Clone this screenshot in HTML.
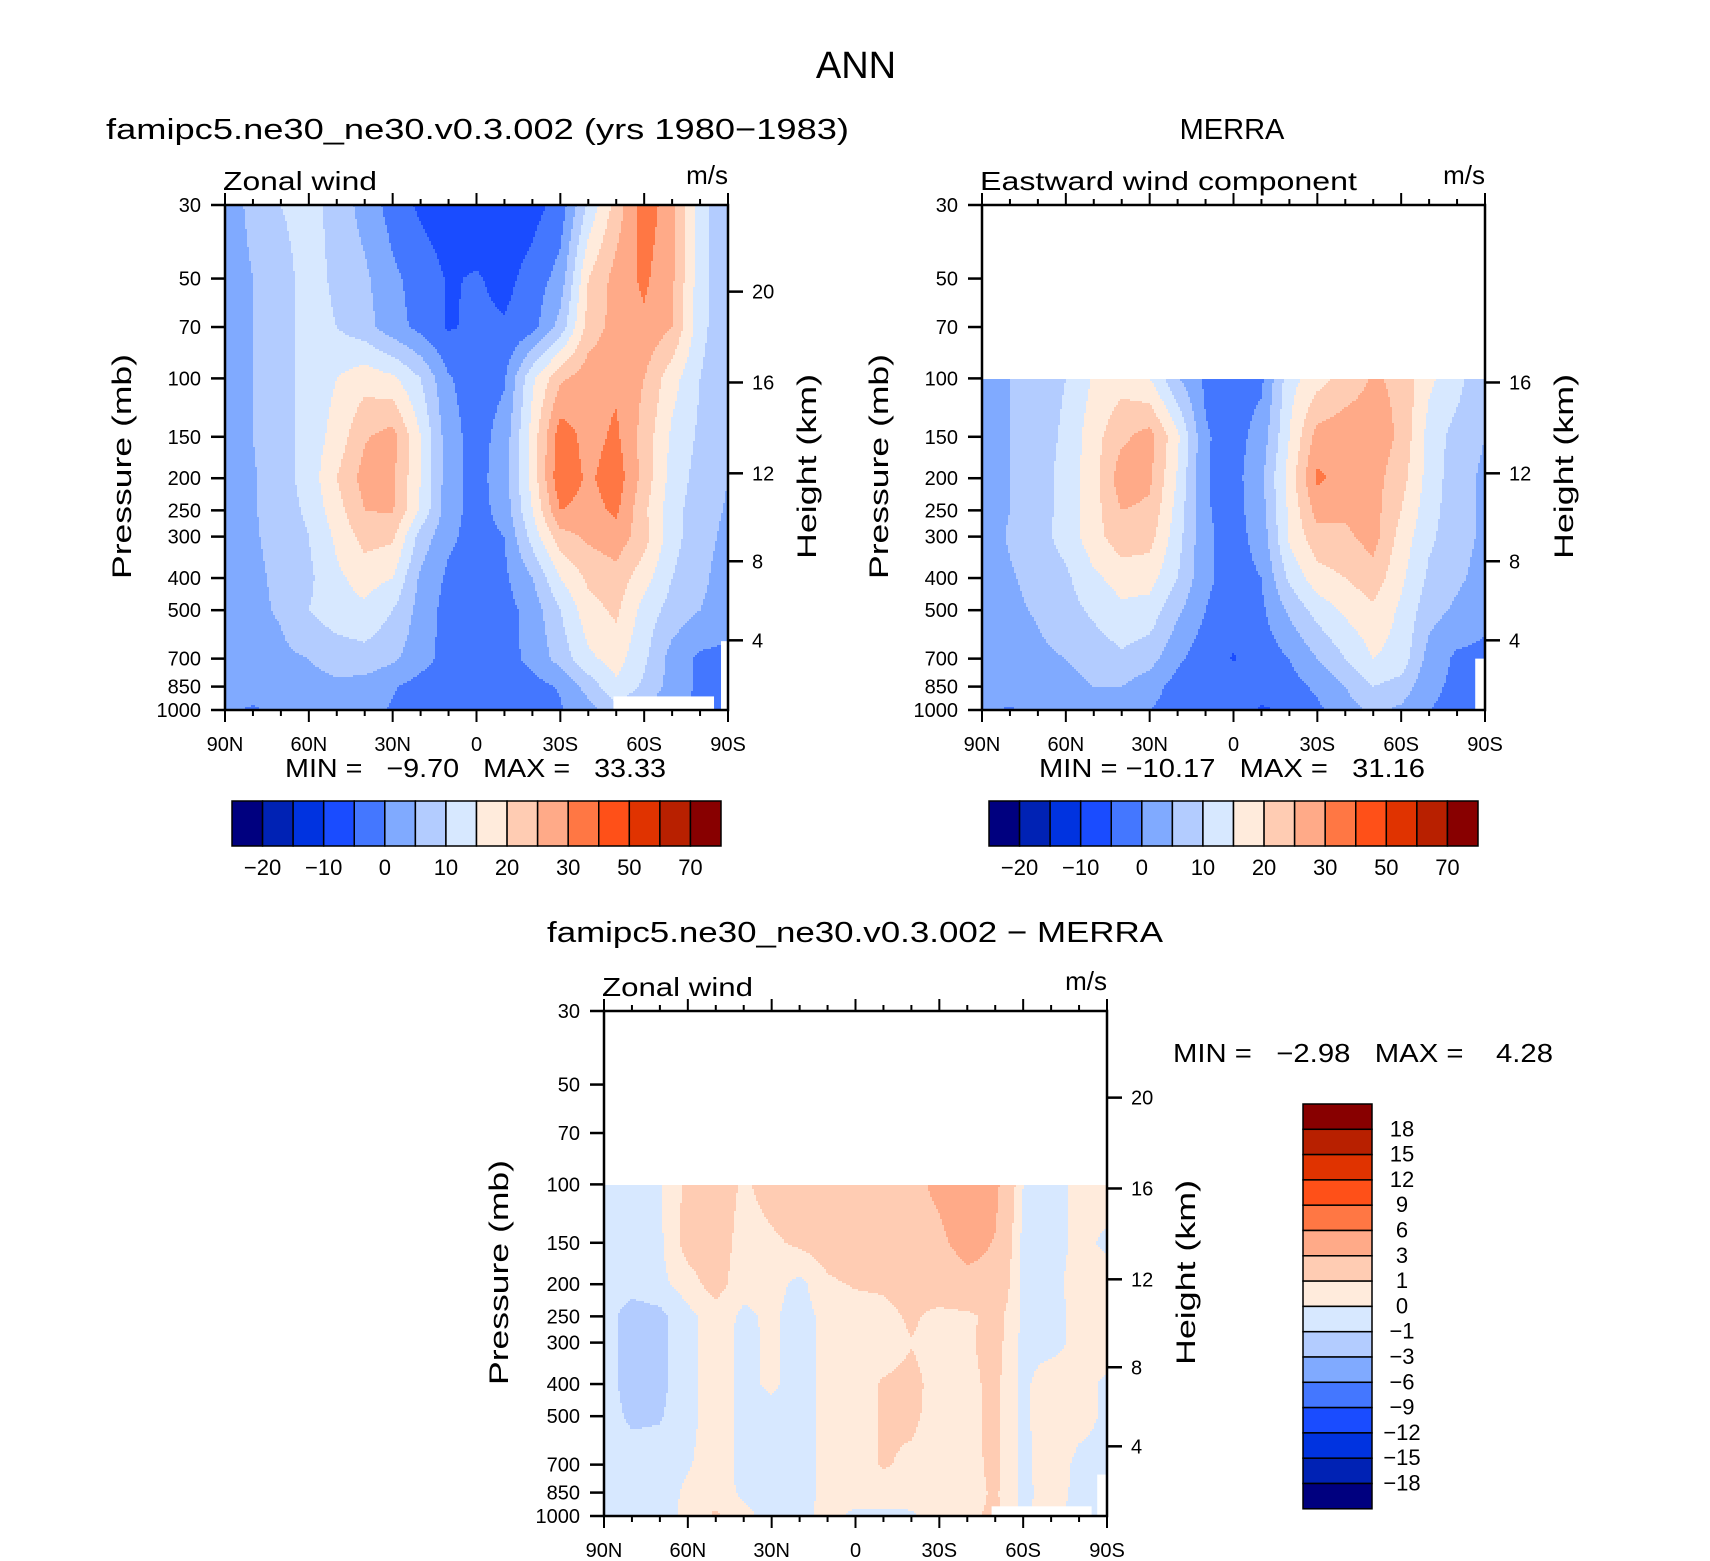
<!DOCTYPE html>
<html><head><meta charset="utf-8"><style>
html,body{margin:0;padding:0;background:#fff;}
svg{display:block;font-family:"Liberation Sans",sans-serif;}
.pre{white-space:pre;}
</style></head><body>
<svg id="fig" xmlns="http://www.w3.org/2000/svg" width="1710" height="1561" viewBox="0 0 1710 1561">
<rect x="0" y="0" width="1710" height="1561" fill="#fff"/>
<text x="856" y="78" font-size="38" text-anchor="middle">ANN</text>
<text x="106" y="139" font-size="29" textLength="743" lengthAdjust="spacingAndGlyphs">famipc5.ne30_ne30.v0.3.002 (yrs 1980−1983)</text>
<text x="1232" y="139" font-size="29" text-anchor="middle">MERRA</text>
<text x="547" y="942" font-size="29" textLength="616" lengthAdjust="spacingAndGlyphs">famipc5.ne30_ne30.v0.3.002 − MERRA</text>
</svg>
<script>
const lats=[90,80,70,60,50,40,30,20,10,0,-10,-20,-30,-40,-50,-60,-70,-80,-90];
const levels=[30,50,70,100,150,200,250,300,400,500,700,850,1000];
const pressureTicks=[30,50,70,100,150,200,250,300,400,500,700,850,1000];
const latTicks=[90,60,30,0,-30,-60,-90];
const latTickLabels=['90N','60N','30N','0','30S','60S','90S'];
const fullLevels=[-20,-15,-10,-5,0,5,10,15,20,25,30,40,50,60,70];
const fullLevelLabels=['−20','−10','0','10','20','30','50','70'];
const diffLevels=[-18,-15,-12,-9,-6,-3,-1,0,1,3,6,9,12,15,18];
const diffLevelLabels=['18','15','12','9','6','3','1','0','−1','−3','−6','−9','−12','−15','−18'];
const modelU=[
[3,6,10,12,8,3,-2,-6,-8,-9,-9,-7,-3,11,22,33,27,12,5],
[3,5,8,12,9,6,1,-2,-5.5,-4.5,-6.5,-3,2,20,27,31,26,12,5],
[3,5,8,12,10,7,2,-1.5,-5.5,-4,-4.5,-2,7,22,27,29,25,12,5],
[3,5,8,12,15,18,16,10,0.5,-2.5,-0.5,14,24,28,29,25,17,10,5],
[3,5,8,12,17,24.5,27,15,2,-2,2,17,33,28,31,23,14,9,5],
[3,4.5,8,12,20,27,26,15,2,-2,3,17,34,29,33,23,13,8,5],
[3,4.5,7.5,11,18,25,25.5,14,2,-2,2,15,30,28,31,21,12,7,4.5],
[2.5,4.5,6.5,10,16,22,21,8,1,-2,0,12,23,26,28,22,12,6.5,4],
[2,4,6,9,14,17,15,4,-1,-2,-1,5,15,21,23,17,10,6,3],
[2,4,5.5,10,13,14,10,3,-2,-2,-2,2,10,18,21,13,8,5,3],
[2,3,4,5,7,8,6,2,-2,-2.5,-2,1.5,7,14,17,11,3,-1,-1.5],
[2,2,3,3.5,4,3,0.5,-2,-3,-2.5,-2,-2,0.5,7,14,9,3,-1,-1],
[0.5,-0.5,1,1.5,2,1.5,-0.5,-5.2,-3,-2,-2,-5.2,-0.5,3,8,5,0,-1,-1]];
const merraU=[null,null,null,
[3,5,7.5,10,15.5,18,15,5.5,-1,-2,-1,13,18,22,25.5,24,16,12,5],
[3,5,7.5,11,18,24,27,16,0.5,-2,2,15,27,28,28,24,13,8,5],
[3,5,7.5,12,18,28,26,14.5,0.3,-2,4,17,31,28,27,22,13,7,4],
[3,5,7.5,12,18,25,24,13,0.5,-2,3,16,27,26,27,20,12,7,4],
[2.5,5.5,8,12,18,23,22,12,1,-2,2,16,23,24,27,18,11,7,4],
[2,4.5,6.5,9,14,17,17,10,1,-2,0,11,18,20,23,16,9,6,3],
[2,4,5.5,8,11,14,13,6,0,-3,-1,6,12,16,19,14,7,4,1],
[1.5,2.5,4,5,7,9,7,1,-3,-5.3,-3,0,5,10,15,13,3,-1,-1],
[1,1.5,2.5,3.5,5,5,2,-2,-3.5,-3,-3,-2,1,5,10,8,1,-1,-1],
[0.5,-0.3,1,2,3,2.5,0,-2,-3,-3,-5.5,-4.5,-1,3,6,4,0,-1,-2]];
const diffU=[null,null,null,
[-0.5,-0.5,-0.1,1.3,1.8,0.8,1.5,2,2.2,2,2.3,2.6,3.3,4.2,3.5,0,-0.8,0.5,0.5],
[-0.5,-0.5,-0.2,1.5,1.7,0.5,0.8,1.2,1.6,1.8,2,2.5,2.7,3.6,2.9,-0.3,-0.5,0.3,-0.2],
[-0.5,-0.6,-0.3,0.5,1.5,0.3,0.4,-0.3,0.8,1.1,1.2,1.6,2,2.5,2.5,-0.4,-0.3,0.4,0.5],
[-0.5,-1.5,-1.3,-0.3,0.5,-0.2,0.2,-0.5,0.4,0.5,0.6,1.2,0.6,0.7,1.5,-0.2,-0.5,0.4,0.5],
[-0.5,-1.5,-1.3,-0.3,0.5,-0.3,0.2,-0.5,0.4,0.5,0.5,0.95,0.6,0.8,1.5,-0.3,-0.5,0.4,0.5],
[-0.5,-1.5,-1.3,-0.3,0.5,-0.3,0.2,-0.5,0.4,0.6,1.1,1.3,0.6,0.7,1.3,-0.3,0.8,0.4,-0.2],
[-0.5,-1.2,-1.1,-0.3,0.5,-0.3,-0.4,-0.4,0.3,0.5,1.1,1.2,0.6,0.7,1.3,-0.3,0.8,0.4,-0.2],
[-0.5,-0.5,-0.5,-0.1,0.5,-0.3,-0.4,-0.4,0.3,0.5,1.1,0.8,0.5,0.6,1.3,-0.3,0.7,-0.3,-0.3],
[-0.5,-0.3,-0.5,0.2,0.5,-0.2,-0.4,-0.4,0.3,0.4,0.5,0.3,0.4,0.5,1.2,-0.3,0.5,-0.3,-0.5],
[-0.3,-0.3,-0.5,0.3,1.2,0.3,-0.4,-0.3,0.3,-0.2,-0.2,-0.1,0.3,0.8,1.2,-0.2,0.5,-0.5,-0.5]];
const palette=['#00007f','#0022b4','#0033e0','#1a4cff','#4477ff','#80aaff','#b3ccff','#d7e8ff','#ffebdc','#ffccb3','#ffaa88','#ff7744','#ff5018','#e03300','#b82000','#880000'];

const NS='http://www.w3.org/2000/svg';
const svg=document.getElementById('fig');
function mk(tag,attrs,parent){const e=document.createElementNS(NS,tag);for(const k in attrs)e.setAttribute(k,attrs[k]);(parent||svg).appendChild(e);return e;}
function heightToP(z){const m=z*1000;if(m<=11000)return 1013.25*Math.pow(1-2.25577e-5*m,5.2559);return 226.32*Math.exp(-(m-11000)/6341.6);}
function classify(v,bounds){let c=0;for(const b of bounds)if(v>=b)c++;return c;}
function sample(grid,lat,p){
  let fx=(90-lat)/10;let j=Math.min(17,Math.max(0,Math.floor(fx)));let tx=Math.min(1,Math.max(0,fx-j));
  let i=0;while(i<levels.length-2&&p>levels[i+1])i++;
  let ty=(Math.log(p)-Math.log(levels[i]))/(Math.log(levels[i+1])-Math.log(levels[i]));ty=Math.min(1,Math.max(0,ty));
  const r0=grid[i],r1=grid[i+1];if(!r0||!r1)return null;
  const a=r0[j]*(1-tx)+r0[j+1]*tx,b=r1[j]*(1-tx)+r1[j+1]*tx;return a*(1-ty)+b*ty;
}
function panel(cfg){
  const {left,top,w,h,grid,bounds,name}=cfg;
  const xS=lat=>left+(90-lat)/180*w;
  const yS=p=>top+Math.log(p/30)/Math.log(1000/30)*h;
  const g=mk('g',{});
  
  
  const field=mk('g',{'shape-rendering':'crispEdges'},g);
  
  
  const step=2;
  for(let py=top;py<top+h;py+=step){
    const hh=Math.min(step,top+h-py);
    const p=30*Math.exp((py+hh/2-top)/h*Math.log(1000/30));
    let cur=null,sx=left;
    const flush=(ex)=>{if(cur!==null){const r=mk('rect',{x:sx,y:py,width:ex-sx,height:hh+0.5,fill:palette[cur]},field);
        
        }};
    for(let px=left;px<left+w;px+=step){
      const ww=Math.min(step,left+w-px);
      const lat=90-(px+ww/2-left)/w*180;
      const v=sample(grid,lat,p);
      const c=v===null?null:classify(v,bounds);
      if(c!==cur){flush(px);cur=c;sx=px;}
    }
    flush(left+w);
  }
  (cfg.masks||[]).forEach(m=>{
    const x1=xS(m.lat1),x2=xS(m.lat2),y1=yS(m.p);
    const r=mk('rect',{x:x1,y:y1,width:x2-x1,height:top+h-y1,fill:'#fff'},g);
    
    
  });
  const frame=mk('rect',{x:left,y:top,width:w,height:h,fill:'none',stroke:'#000','stroke-width':2.5},g);
  
  
  for(let lat=90;lat>=-90;lat-=10){
    const x=xS(lat);const major=lat%30===0;const L=major?12:6;
    const t1=mk('line',{x1:x,y1:top,x2:x,y2:top-L,stroke:'#000','stroke-width':2},g);
    
    
    const t2=mk('line',{x1:x,y1:top+h,x2:x,y2:top+h+L,stroke:'#000','stroke-width':2},g);
    
    
  }
  latTicks.forEach((lat,k)=>{
    const t=mk('text',{x:xS(lat),y:top+h+41,'font-size':20,'text-anchor':'middle'},g);t.textContent=latTickLabels[k];
    
    
  });
  pressureTicks.forEach(p=>{
    const y=yS(p);
    const t=mk('line',{x1:left-14,y1:y,x2:left,y2:y,stroke:'#000','stroke-width':2.5},g);
    
    
    const l=mk('text',{x:left-24,y:y+7,'font-size':20,'text-anchor':'end'},g);l.textContent=p;
    
    
  });
  cfg.heights.forEach(z=>{
    const y=yS(heightToP(z));
    const t=mk('line',{x1:left+w,y1:y,x2:left+w+15,y2:y,stroke:'#000','stroke-width':2.5},g);
    
    
    const l=mk('text',{x:left+w+24,y:y+7,'font-size':20},g);l.textContent=z;
    
    
  });
  const pt=mk('text',{x:0,y:0,'font-size':27,'text-anchor':'middle',transform:`translate(${cfg.pTitleX},${top+h*0.5+9}) rotate(-90)`,textLength:225,lengthAdjust:'spacingAndGlyphs'},g);pt.textContent='Pressure (mb)';
  
  
  const ht=mk('text',{x:0,y:0,'font-size':27,'text-anchor':'middle',transform:`translate(${left+w+88},${top+h*0.5+9}) rotate(-90)`,textLength:185,lengthAdjust:'spacingAndGlyphs'},g);ht.textContent='Height (km)';
  
  
  const lt=mk('text',{x:left-2,y:top-15,'font-size':26,textLength:cfg.leftLen,lengthAdjust:'spacingAndGlyphs'},g);lt.textContent=cfg.leftStr;
  
  
  const ut=mk('text',{x:left+w,y:top-21,'font-size':26,'text-anchor':'end'},g);ut.textContent='m/s';
  
  
}
function hColorbar(x0,y0,wid,hei,minmax,mmX,mmLen){
  const g=mk('g',{});
  
  
  const cw=wid/16;
  palette.forEach((c,k)=>{const r=mk('rect',{x:x0+k*cw,y:y0,width:cw,height:hei,fill:c,stroke:'#000','stroke-width':1.5},g);
    
    });
  fullLevelLabels.forEach((s,i)=>{const t=mk('text',{x:x0+cw*(2*i+1),y:y0+74,'font-size':22,'text-anchor':'middle'},g);t.textContent=s;
    
    });
  const m=mk('text',{x:mmX,y:777,'font-size':26,'class':'pre',textLength:mmLen,lengthAdjust:'spacingAndGlyphs'},g);m.textContent=minmax;
  
  
}
panel({name:'model',left:225,top:205,w:503,h:505,grid:modelU,bounds:fullLevels,heights:[20,16,12,8,4],pTitleX:131,leftStr:'Zonal wind',leftLen:154,
  masks:[{lat1:-49,lat2:-85,p:910},{lat1:-87.5,lat2:-90,p:620}]});
panel({name:'merra',left:982,top:205,w:503,h:505,grid:merraU,bounds:fullLevels,heights:[16,12,8,4],pTitleX:888,leftStr:'Eastward wind component',leftLen:377,
  masks:[{lat1:-86.5,lat2:-90,p:700}]});
panel({name:'diff',left:604,top:1011,w:503,h:505,grid:diffU,bounds:diffLevels,heights:[20,16,12,8,4],pTitleX:508,leftStr:'Zonal wind',leftLen:151,
  masks:[{lat1:-48.7,lat2:-84.5,p:935},{lat1:-86.5,lat2:-90,p:750}]});
hColorbar(232,801,489,45,'MIN =   −9.70   MAX =   33.33',285,381);
hColorbar(989,801,489,45,'MIN = −10.17   MAX =   31.16',1039,386);
(function(){
  const g=mk('g',{});
  
  
  const x0=1303,y0=1104,cw=69,ch=25.3;
  for(let k=0;k<16;k++){const r=mk('rect',{x:x0,y:y0+k*ch,width:cw,height:ch,fill:palette[15-k],stroke:'#000','stroke-width':1.5},g);
    
    }
  diffLevelLabels.forEach((s,k)=>{const t=mk('text',{x:1402,y:y0+(k+1)*ch+7,'font-size':22,'text-anchor':'middle'},g);t.textContent=s;
    
    });
  const m=mk('text',{x:1173,y:1062,'font-size':26,'class':'pre',textLength:380,lengthAdjust:'spacingAndGlyphs'},g);m.textContent='MIN =   −2.98   MAX =    4.28';
  
  
})();
</script>
</body></html>
